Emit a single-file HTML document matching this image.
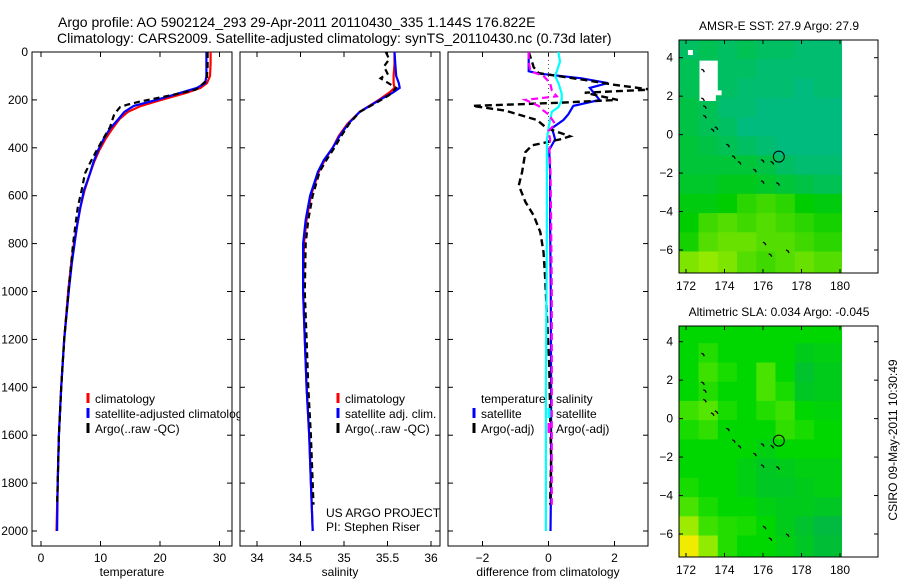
<!DOCTYPE html>
<html><head><meta charset="utf-8"><style>
html,body{margin:0;padding:0;background:#fff}
svg{display:block;font-family:"Liberation Sans",sans-serif}
</style></head><body>
<svg id="fig" width="900" height="580" viewBox="0 0 900 580" xmlns="http://www.w3.org/2000/svg">
<text x="58" y="27" font-size="14">Argo profile: AO 5902124_293 29-Apr-2011 20110430_335 1.144S 176.822E</text>
<text x="57" y="43" font-size="14">Climatology: CARS2009. Satellite-adjusted climatology: synTS_20110430.nc (0.73d later)</text>
<text transform="translate(897,440) rotate(-90)" text-anchor="middle" font-size="12">CSIRO 09-May-2011 10:30:49</text>
</svg>
<script>
// ---------- profile data ----------
const tDepth   = [0,50,100,130,150,170,200,225,250,280,320,360,410,460,510,580,650,720,790,880,990,1200,1400,1600,1800,2000];
const tClim    = [28.5,28.5,28.4,27.9,26.8,24.5,20.2,16.8,14.6,13.2,12.0,10.9,9.8,8.9,8.2,7.3,6.6,6.1,5.6,5.1,4.6,3.9,3.4,3.0,2.8,2.6];
const tSat     = [27.8,27.8,27.8,27.6,26.2,23.5,19.4,15.6,14.0,13.0,11.6,10.6,9.6,8.8,8.2,7.2,6.6,6.1,5.7,5.2,4.7,3.9,3.4,3.0,2.8,2.7];
const argoTDepth = [0,60,100,117,137,157,180,207,220,230,260,314,360,409,460,507,580,645,720,800,900,1000,1200,1400,1600,1800,1890];
const argoT      = [28.0,28.0,27.9,27.9,27.0,26.0,22.0,16.6,14.5,13.3,12.3,11.6,10.5,9.4,8.3,7.4,6.8,6.2,5.8,5.4,5.0,4.6,3.9,3.4,3.0,2.8,2.7];

const sDepth = [0,50,100,130,150,170,200,250,300,350,400,450,500,600,700,800,1000,1200,1400,1600,1800,2000];
const sClim  = [35.58,35.58,35.57,35.57,35.58,35.52,35.40,35.18,35.04,34.94,34.87,34.78,34.71,34.62,34.57,34.54,34.53,34.55,34.57,34.60,34.62,34.64];
const sSat   = [35.58,35.59,35.60,35.63,35.64,35.56,35.41,35.18,35.05,34.95,34.87,34.77,34.70,34.61,34.56,34.53,34.53,34.55,34.57,34.60,34.62,34.64];
const argoSDepth = [0,30,60,90,110,150,180,210,250,300,350,400,450,500,600,700,800,1000,1200,1400,1600,1800,1890];
const argoS      = [35.48,35.52,35.46,35.50,35.42,35.60,35.52,35.38,35.18,35.06,34.97,34.89,34.80,34.72,34.64,34.59,34.56,34.55,34.57,34.59,34.62,34.64,34.65];

const dDepthSat = [0,40,80,90,95,110,130,150,175,200,225,260,284,318,340,365,409,500,700,1000,1400,1800,2000];
const dTSat     = [-0.6,-0.6,-0.6,-0.3,0.05,1.0,1.8,1.25,1.4,1.55,0.75,0.6,0.45,0.1,0.15,0.2,0.02,0.05,0.05,0.07,0.08,0.08,0.06];
const dDepthArgo = [0,40,63,88,117,137,157,170,200,212,225,245,284,318,352,365,390,418,501,557,626,682,752,835,946,1100,1300,1500,1700,1890];
const dTArgo     = [-0.6,-0.5,-0.45,-0.3,1.1,2.0,3.1,1.1,2.1,0.3,-2.3,-1.3,-0.35,-0.05,0.65,0.35,-0.5,-0.7,-0.8,-0.9,-0.7,-0.45,-0.25,-0.15,-0.1,-0.05,0.02,0.05,0.08,0.05];
const dSDepthSat = [0,40,80,100,130,150,175,200,230,250,284,318,365,409,500,700,1000,1400,1800,2000];
const dSSat      = [0.3,0.35,0.25,0.2,0.3,0.35,0.4,0.4,0.3,0.1,0.05,0.0,-0.05,-0.05,-0.05,-0.05,-0.06,-0.08,-0.08,-0.08];
const dSDepthArgo = [0,40,80,100,130,160,185,200,225,245,260,300,330,365,409,500,700,1000,1400,1800,1890];
const dSArgo      = [-0.6,-0.6,-0.55,-0.15,0.05,0.1,0.25,-0.7,-0.3,-0.15,0.0,0.2,0.0,0.05,0.03,0.06,0.08,0.1,0.1,0.1,0.1];

const depthTicks = [0,200,400,600,800,1000,1200,1400,1600,1800,2000];
const tempTicks = [0,10,20,30];
const salTicks = [34,34.5,35,35.5,36];
const salTickLabels = ["34","34.5","35","35.5","36"];
const diffTicks = [-2,0,2];
const diffTickLabels = ["\u22122","0","2"];

// ---------- map data ----------
const mapLon = [171.65,172.65,173.65,174.65,175.65,176.65,177.65,178.65];
const mapLat = [4.92,3.92,2.92,1.92,0.92,-0.08,-1.08,-2.08,-3.08,-4.08,-5.08,-6.08];
const sstLevels = [
[0.3,0.4,0.3,0.4,0.3,0.3,0.2,0.2],
[0.4,0.3,0.3,0.3,0.2,0.2,0.2,0.2],
[0.4,0.4,0.3,0.2,0.2,0.2,0.1,0.2],
[0.5,0.4,0.2,0.2,0.1,0.1,0.1,0.1],
[0.5,0.4,0.3,0.1,0.1,0.1,0.1,0.1],
[0.6,0.5,0.4,0.3,0.2,0.1,0.1,0.1],
[0.6,0.6,0.6,0.6,0.5,0.3,0.2,0.2],
[0.7,0.7,0.8,0.8,0.7,0.6,0.5,0.4],
[0.9,0.9,1.0,1.2,1.3,1.2,1.0,0.9],
[1.0,1.3,1.4,1.3,1.4,1.3,1.2,1.1],
[1.1,1.4,1.5,1.5,1.4,1.4,1.3,1.2],
[1.6,1.7,1.6,1.4,1.3,1.4,1.5,1.4]];
const slaLevels = [
[0,0,0,0,0,0,0,0],
[0,0.3,0,0,0,0,-0.3,-0.2],
[0,0.5,0.2,0,0.6,0,-0.5,-0.3],
[0,0.3,0,0,0.6,0.2,-0.4,-0.3],
[0.5,0.7,0.2,0,0.3,0.5,0,-0.1],
[0.2,0.4,0,0,0,0.4,0.2,0],
[0,0,0,0,-0.2,0,0,0],
[0,0,0,-0.2,-0.4,-0.3,-0.2,-0.2],
[0.2,0,0,-0.2,-0.4,-0.4,-0.3,-0.2],
[0.6,0.2,0,0,-0.2,-0.3,-0.3,-0.4],
[1.3,0.5,0.3,0.2,0,-0.3,-0.5,-0.7],
[2,1.2,0.3,0,0,-0.2,-0.4,-0.6]];
const islandLon = [172.9,172.9,173.0,173.0,173.4,173.6,174.2,174.5,174.8,175.6,176.0,176.5,176.0,176.8,176.1,177.3,176.4];
const islandLat = [3.3,1.8,1.4,0.9,0.2,0.3,-0.6,-1.2,-1.5,-1.9,-1.4,-1.5,-2.5,-2.6,-5.7,-6.1,-6.3];
const floatLon = 176.822, floatLat = -1.144;
const lonTicks = [172,174,176,178,180];
const latTicks = [4,2,0,-2,-4,-6];

const NS = "http://www.w3.org/2000/svg";
const svg = document.getElementById("fig");
function mk(tag, attrs, parent){ const e=document.createElementNS(NS,tag); for(const k in attrs) e.setAttribute(k,attrs[k]); (parent||svg).appendChild(e); return e; }

const PT=52, PB=546;
const yD = d => PT + d*0.2395;

function profilePanel(x0,x1,xfn,ticks,labels,title,name){
  const g = mk("g",{});
  
  
  const cp=mk("clipPath",{id:"clip-"+name},g);
  mk("rect",{x:x0,y:PT,width:x1-x0+8,height:PB-PT},cp);
  const box = mk("rect",{x:x0,y:PT,width:x1-x0,height:PB-PT,fill:"none",stroke:"#000","stroke-width":1},g);
  
  
  depthTicks.forEach(d=>{
    const y=yD(d);
    mk("line",{x1:x0,y1:y,x2:x0+5,y2:y,stroke:"#000"},g);
    mk("line",{x1:x1,y1:y,x2:x1-5,y2:y,stroke:"#000"},g);
  });
  ticks.forEach((v,i)=>{
    const x=xfn(v);
    mk("line",{x1:x,y1:PB,x2:x,y2:PB-5,stroke:"#000"},g);
    mk("line",{x1:x,y1:PT,x2:x,y2:PT+5,stroke:"#000"},g);
    const t=mk("text",{x:x,y:562,"text-anchor":"middle","font-size":12},g);
    t.textContent=labels[i];
    
    
  });
  const tt=mk("text",{x:(x0+x1)/2,y:576,"text-anchor":"middle","font-size":12},g);
  tt.textContent=title;
  
  
  return g;
}
function line(g,xs,ds,xfn,color,dash,w,name){
  const pts=xs.map((v,i)=>xfn(v).toFixed(1)+","+yD(ds[i]).toFixed(1)).join(" ");
  const p=mk("polyline",{points:pts,fill:"none",stroke:color,"stroke-width":w||2,"stroke-dasharray":dash||"none"},g);
  
  
}
function legend(g,x,y,color,label,name){
  mk("line",{x1:x,y1:y-10,x2:x,y2:y,stroke:color,"stroke-width":3},g);
  const t=mk("text",{x:x+7,y:y,"font-size":12},g);
  t.textContent=label;
  
  
}

// Panel 1 temperature
const xT = v => 41 + v*5.95;
const g1 = profilePanel(32,232,xT,tempTicks,tempTicks.map(String),"temperature","temperature-panel");
depthTicks.forEach(d=>{ const t=mk("text",{x:28,y:yD(d)+4,"text-anchor":"end","font-size":12},g1); t.textContent=d;
  
   });
line(g1,tClim,tDepth,xT,"#f00",null,2.2,"temp-climatology-line");
line(g1,tSat,tDepth,xT,"#00f",null,2.2,"temp-satellite-line");
line(g1,argoT,argoTDepth,xT,"#000","6,4",2.2,"temp-argo-line");
const lg1=mk("g",{"clip-path":"url(#clip-temperature-panel)"},g1);
legend(lg1,88,403,"#f00","climatology","legend-climatology");
legend(lg1,88,418,"#00f","satellite-adjusted climatology","legend-satellite");
legend(lg1,88,433,"#000","Argo(..raw -QC)","legend-argo");

// Panel 2 salinity
const xS = v => 257 + (v-34)*87;
const g2 = profilePanel(240,440,xS,salTicks,salTickLabels,"salinity","salinity-panel");
line(g2,sClim,sDepth,xS,"#f00",null,2.2,"sal-climatology-line");
line(g2,sSat,sDepth,xS,"#00f",null,2.2,"sal-satellite-line");
line(g2,argoS,argoSDepth,xS,"#000","6,4",2.2,"sal-argo-line");
legend(g2,338,403,"#f00","climatology","legend-sal-climatology");
legend(g2,338,418,"#00f","satellite adj. clim.","legend-sal-satellite");
legend(g2,338,433,"#000","Argo(..raw -QC)","legend-sal-argo");
const us=mk("text",{x:326,y:517,"font-size":12},g2); us.textContent="US ARGO PROJECT";


const pi=mk("text",{x:326,y:531,"font-size":12},g2); pi.textContent="PI: Stephen Riser";



// Panel 3 difference
const xDf = v => 548.5 + v*33;
const g3 = profilePanel(448,648,xDf,diffTicks,diffTickLabels,"difference from climatology","difference-panel");
const cp3=mk("clipPath",{id:"cp3"},g3);
mk("rect",{x:448,y:PT,width:200,height:PB-PT},cp3);
const g3c = mk("g",{"clip-path":"url(#cp3)"},g3);
mk("line",{x1:xDf(0),y1:PT,x2:xDf(0),y2:yD(420),stroke:"#555","stroke-dasharray":"1,3"},g3c);
line(g3c,dTSat,dDepthSat,xDf,"#00f",null,2.2,"diff-temp-satellite-line");
line(g3c,dTArgo,dDepthArgo,xDf,"#000","7,4",2.4,"diff-temp-argo-line");
line(g3c,dSSat,dSDepthSat,xDf,"#0ff",null,2.2,"diff-sal-satellite-line");
line(g3c,dSArgo,dSDepthArgo,xDf,"#f0f","7,4",2.2,"diff-sal-argo-line");
const lt=mk("text",{x:481,y:403,"font-size":12},g3); lt.textContent="temperature";


const ls=mk("text",{x:556,y:403,"font-size":12},g3); ls.textContent="salinity";


legend(g3,474,418,"#00f","satellite","legend-diff-temp-satellite");
legend(g3,474,433,"#000","Argo(-adj)","legend-diff-temp-argo");
legend(g3,549,418,"#0ff","satellite","legend-diff-sal-satellite");
legend(g3,549,433,"#f0f","Argo(-adj)","legend-diff-sal-argo");

// ---------- maps ----------
function lerpC(stops,v){
  const lo=Math.max(0,Math.min(stops.length-2,Math.floor(v-stops.base)));
  const f=Math.max(0,Math.min(1,v-stops.base-lo));
  const a=stops[lo],b=stops[lo+1];
  return "rgb("+a.map((c,i)=>Math.round(c+(b[i]-c)*f)).join(",")+")";
}
const sstStops=[[0,185,140],[0,205,0],[210,245,0]]; sstStops.base=0;
const slaStops=[[0,175,90],[0,215,0],[120,235,0],[240,235,0]]; slaStops.base=-1;

function mapPanel(top,bottom,lat4y,levels,stops,title,name,white){
  const g=mk("g",{});
  
  
  const L=679,R=878;
  const xL = lon => 686 + (lon-172)*19.25;
  const yL = lat => lat4y + (4-lat)*19.23;
  const cp=mk("clipPath",{id:"cp"+name},g);
  mk("rect",{x:L,y:top,width:R-L,height:bottom-top},cp);
  const gc=mk("g",{"clip-path":"url(#cp"+name+")"},g);
  levels.forEach((row,r)=>row.forEach((v,c)=>{
    const x0=xL(mapLon[c]);
    const x1=(c===row.length-1)?842:xL(mapLon[c]+1)+0.5;
    const y0=yL(mapLat[r]);
    const h=(r===levels.length-1)?25:19.8;
    const cell=mk("rect",{x:x0.toFixed(1),y:y0.toFixed(1),width:(x1-x0).toFixed(1),height:h,fill:lerpC(stops,v)},gc);
    
    
  }));
  if(white){
    mk("rect",{x:xL(172.1),y:yL(4.4),width:5,height:5,fill:"#fff"},gc);
    mk("path",{d:"M"+xL(172.7)+","+yL(3.85)+"H"+xL(173.65)+"V"+yL(2.3)+"H"+xL(173.85)+"V"+yL(2.05)+"H"+xL(173.55)+"V"+yL(1.75)+"H"+xL(172.7)+"Z",fill:"#fff"},gc);
  }
  islandLon.forEach((lo,i)=>{
    const x=xL(lo),y=yL(islandLat[i]);
    const p=mk("path",{d:"M"+(x-2)+","+(y-2)+"l2,1l1,2",fill:"none",stroke:"#000","stroke-width":1.3},gc);
    
    
  });
  const fc=mk("circle",{cx:xL(floatLon),cy:yL(floatLat),r:5.5,fill:"none",stroke:"#000","stroke-width":1},gc);
  
  
  mk("rect",{x:L,y:top,width:R-L,height:bottom-top,fill:"none",stroke:"#000"},g);
  lonTicks.forEach(lo=>{
    const x=xL(lo);
    mk("line",{x1:x,y1:bottom,x2:x,y2:bottom-4,stroke:"#000"},g);
    mk("line",{x1:x,y1:top,x2:x,y2:top+4,stroke:"#000"},g);
    const t=mk("text",{x:x,y:bottom+17,"text-anchor":"middle","font-size":12},g); t.textContent=lo;
    
    
  });
  latTicks.forEach(la=>{
    const y=yL(la);
    mk("line",{x1:L,y1:y,x2:L+4,y2:y,stroke:"#000"},g);
    mk("line",{x1:R,y1:y,x2:R-4,y2:y,stroke:"#000"},g);
    const t=mk("text",{x:673,y:y+4,"text-anchor":"end","font-size":12},g); t.textContent=la<0?"\u2212"+(-la):la;
    
    
  });
  const tt=mk("text",{x:779,y:top-10,"text-anchor":"middle","font-size":12},g); tt.textContent=title;
  
  
}
mapPanel(40,273,57.7,sstLevels,sstStops,"AMSR-E SST: 27.9 Argo: 27.9","sst-map",true);
mapPanel(326,557,341.7,slaLevels,slaStops,"Altimetric SLA: 0.034 Argo: -0.045","sla-map",false);
</script>
</body></html>
